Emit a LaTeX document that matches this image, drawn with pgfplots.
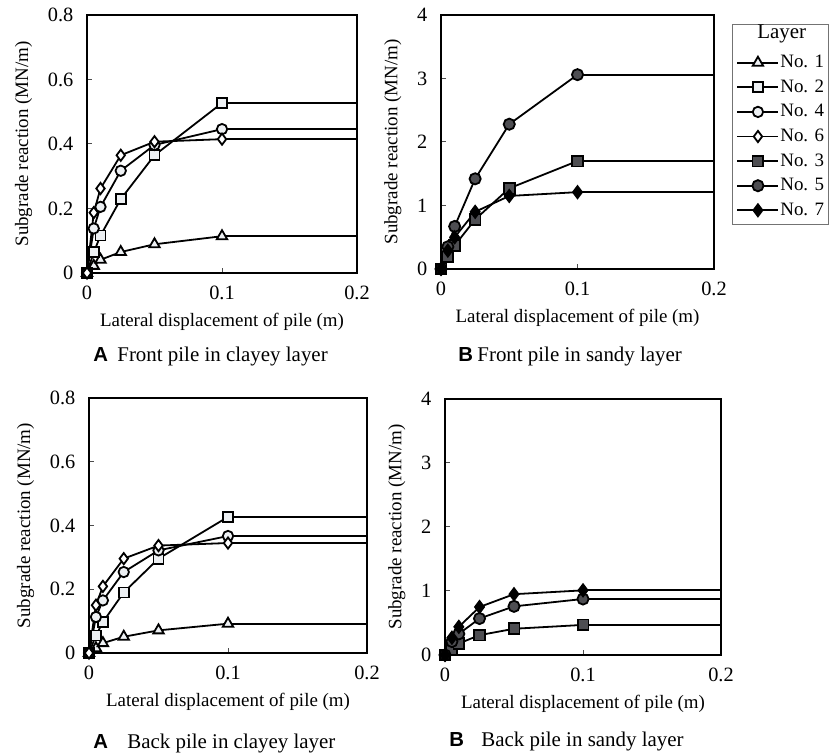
\documentclass[border=0pt]{standalone}
\usepackage{fontspec}
\setmainfont{Liberation Serif}
\newfontfamily\hv{Liberation Sans}
\usepackage{pgfplots}
\pgfplotsset{compat=1.18}

\definecolor{lt}{RGB}{237,240,243}
\definecolor{dk}{RGB}{78,78,82}

\newcommand{\tf}{\fontsize{9.5}{11}\selectfont}
\newcommand{\kf}{\fontsize{10.2}{12}\selectfont}
\newcommand{\cf}{\fontsize{10.5}{12}\selectfont}
\newcommand{\lf}{\hv\bfseries\fontsize{10.2}{12}\selectfont}

\pgfplotsset{
  panel/.style={scale only axis, xmin=0, xmax=0.2, ymin=0, xtick={0,0.1,0.2}, clip=false,
    axis line style={line width=1bp}, tick align=inside, xtick pos=bottom, ytick pos=left,
    major tick length=2.5bp, tick style={black!70, line width=0.5bp},
    ticklabel style={font=\kf}, label style={font=\tf},
    xticklabel style={yshift=-3bp}, yticklabel style={xshift=-3.3bp},
    ylabel style={yshift=1bp},
    xlabel={Lateral displacement of pile (m)}, ylabel={Subgrade reaction (MN/m)},
    /pgf/number format/assume math mode=true,
    legend image code/.code={\draw[mark repeat=2,mark phase=2,##1] plot coordinates {(0bp,0bp)(10.25bp,0bp)(20.5bp,0bp)};}},
  base/.style={black, line width=0.9bp, mark options={solid, line width=0.6bp}},
  n1/.style={base, mark=triangle*, mark size=3bp, mark options={fill=lt}},
  n2/.style={base, mark=square*, mark size=2.5bp, mark options={fill=lt}},
  n4/.style={base, mark=*, mark size=2.6bp, mark options={fill=lt}},
  n6/.style={base, mark=diamond*, mark size=2.8bp, mark options={fill=white}},
  n3/.style={base, mark=square*, mark size=2.7bp, mark options={fill=dk}},
  n5/.style={base, mark=*, mark size=2.8bp, mark options={fill=dk}},
  n7/.style={base, mark=diamond*, mark size=3bp, mark options={fill=black}},
  ext/.style={black, line width=0.9bp, no marks, forget plot},
}

\begin{document}
\begin{tikzpicture}[x=0.5bp,y=0.5bp]
\path[use as bounding box] (0,0) rectangle (829,754);

% A: front pile in clayey layer
\begin{axis}[panel, at={(43.5bp,240.5bp)}, anchor=south west, width=135bp, height=129bp,
  ymax=0.8, ytick={0,0.2,0.4,0.6,0.8}]
\addplot[n1] coordinates {(0,0)(0.005,0.022)(0.01,0.041)(0.025,0.065)(0.05,0.089)(0.1,0.114)};
\addplot[ext] coordinates {(0.1,0.114)(0.2,0.114)};
\addplot[n2] coordinates {(0,0)(0.005,0.064)(0.01,0.116)(0.025,0.229)(0.05,0.365)(0.1,0.527)};
\addplot[ext] coordinates {(0.1,0.527)(0.2,0.527)};
\addplot[n4] coordinates {(0,0)(0.005,0.138)(0.01,0.205)(0.025,0.317)(0.05,0.397)(0.1,0.446)};
\addplot[ext] coordinates {(0.1,0.446)(0.2,0.446)};
\addplot[n6] coordinates {(0,0)(0.005,0.187)(0.01,0.262)(0.025,0.365)(0.05,0.407)(0.1,0.415)};
\addplot[ext] coordinates {(0.1,0.415)(0.2,0.415)};
\end{axis}

% B: front pile in sandy layer
\begin{axis}[panel, at={(220.5bp,242.5bp)}, anchor=south west, width=136.5bp, height=127bp,
  ymax=4, ytick={0,1,2,3,4},
  legend style={at={(1.066,0.966)}, anchor=north west, draw=black!55, line width=0.5bp,
    font=\tf, row sep=2.3bp, inner xsep=2bp, inner ysep=2bp,
    nodes={inner sep=0.5bp, text height=7bp, text depth=2bp}},
  legend cell align=left]
\addlegendimage{empty legend}
\addlegendentry{\hspace*{-11.5bp}\raisebox{2.5bp}{\fontsize{10.5}{12}\selectfont Layer}}
\addlegendimage{n1}\addlegendentry{No. 1}
\addlegendimage{n2}\addlegendentry{No. 2}
\addlegendimage{n4}\addlegendentry{No. 4}
\addlegendimage{n6}\addlegendentry{No. 6}
\addplot[n3] coordinates {(0,0)(0.005,0.19)(0.01,0.37)(0.025,0.78)(0.05,1.27)(0.1,1.70)};
\addlegendentry{No. 3}
\addplot[ext] coordinates {(0.1,1.70)(0.2,1.70)};
\addplot[n5] coordinates {(0,0)(0.005,0.35)(0.01,0.67)(0.025,1.42)(0.05,2.28)(0.1,3.06)};
\addlegendentry{No. 5}
\addplot[ext] coordinates {(0.1,3.06)(0.2,3.06)};
\addplot[n7] coordinates {(0,0)(0.005,0.29)(0.01,0.50)(0.025,0.90)(0.05,1.15)(0.1,1.21)};
\addlegendentry{No. 7}
\addplot[ext] coordinates {(0.1,1.21)(0.2,1.21)};
\end{axis}

% A: back pile in clayey layer
\begin{axis}[panel, at={(44.5bp,50.5bp)}, anchor=south west, width=139bp, height=127.5bp,
  ymax=0.8, ytick={0,0.2,0.4,0.6,0.8}]
\addplot[n1] coordinates {(0,0)(0.005,0.015)(0.01,0.031)(0.025,0.051)(0.05,0.071)(0.1,0.092)};
\addplot[ext] coordinates {(0.1,0.092)(0.2,0.092)};
\addplot[n2] coordinates {(0,0)(0.005,0.055)(0.01,0.097)(0.025,0.19)(0.05,0.296)(0.1,0.427)};
\addplot[ext] coordinates {(0.1,0.427)(0.2,0.427)};
\addplot[n4] coordinates {(0,0)(0.005,0.113)(0.01,0.165)(0.025,0.254)(0.05,0.322)(0.1,0.367)};
\addplot[ext] coordinates {(0.1,0.367)(0.2,0.367)};
\addplot[n6] coordinates {(0,0)(0.005,0.15)(0.01,0.209)(0.025,0.296)(0.05,0.337)(0.1,0.345)};
\addplot[ext] coordinates {(0.1,0.345)(0.2,0.345)};
\end{axis}

% B: back pile in sandy layer
\begin{axis}[panel, at={(222.5bp,49.5bp)}, anchor=south west, width=138bp, height=128bp,
  ymax=4, ytick={0,1,2,3,4}]
\addplot[n3] coordinates {(0,0)(0.005,0.08)(0.01,0.18)(0.025,0.31)(0.05,0.41)(0.1,0.47)};
\addplot[ext] coordinates {(0.1,0.47)(0.2,0.47)};
\addplot[n5] coordinates {(0,0)(0.005,0.21)(0.01,0.33)(0.025,0.57)(0.05,0.76)(0.1,0.875)};
\addplot[ext] coordinates {(0.1,0.875)(0.2,0.875)};
\addplot[n7] coordinates {(0,0)(0.005,0.27)(0.01,0.44)(0.025,0.75)(0.05,0.95)(0.1,1.01)};
\addplot[ext] coordinates {(0.1,1.01)(0.2,1.01)};
\end{axis}

% panel captions
\begin{scope}[every node/.style={anchor=base west, inner sep=0pt, font=\cf}]
\node[font=\lf] at (93,392) {A};
\node at (117,392) {Front pile in clayey layer};
\node[font=\lf] at (458,392) {B};
\node at (477,392) {Front pile in sandy layer};
\node[font=\lf] at (93,5) {A};
\node at (127,5) {Back pile in clayey layer};
\node[font=\lf] at (449,7) {B};
\node at (481,7) {Back pile in sandy layer};
\end{scope}
\end{tikzpicture}
\end{document}
